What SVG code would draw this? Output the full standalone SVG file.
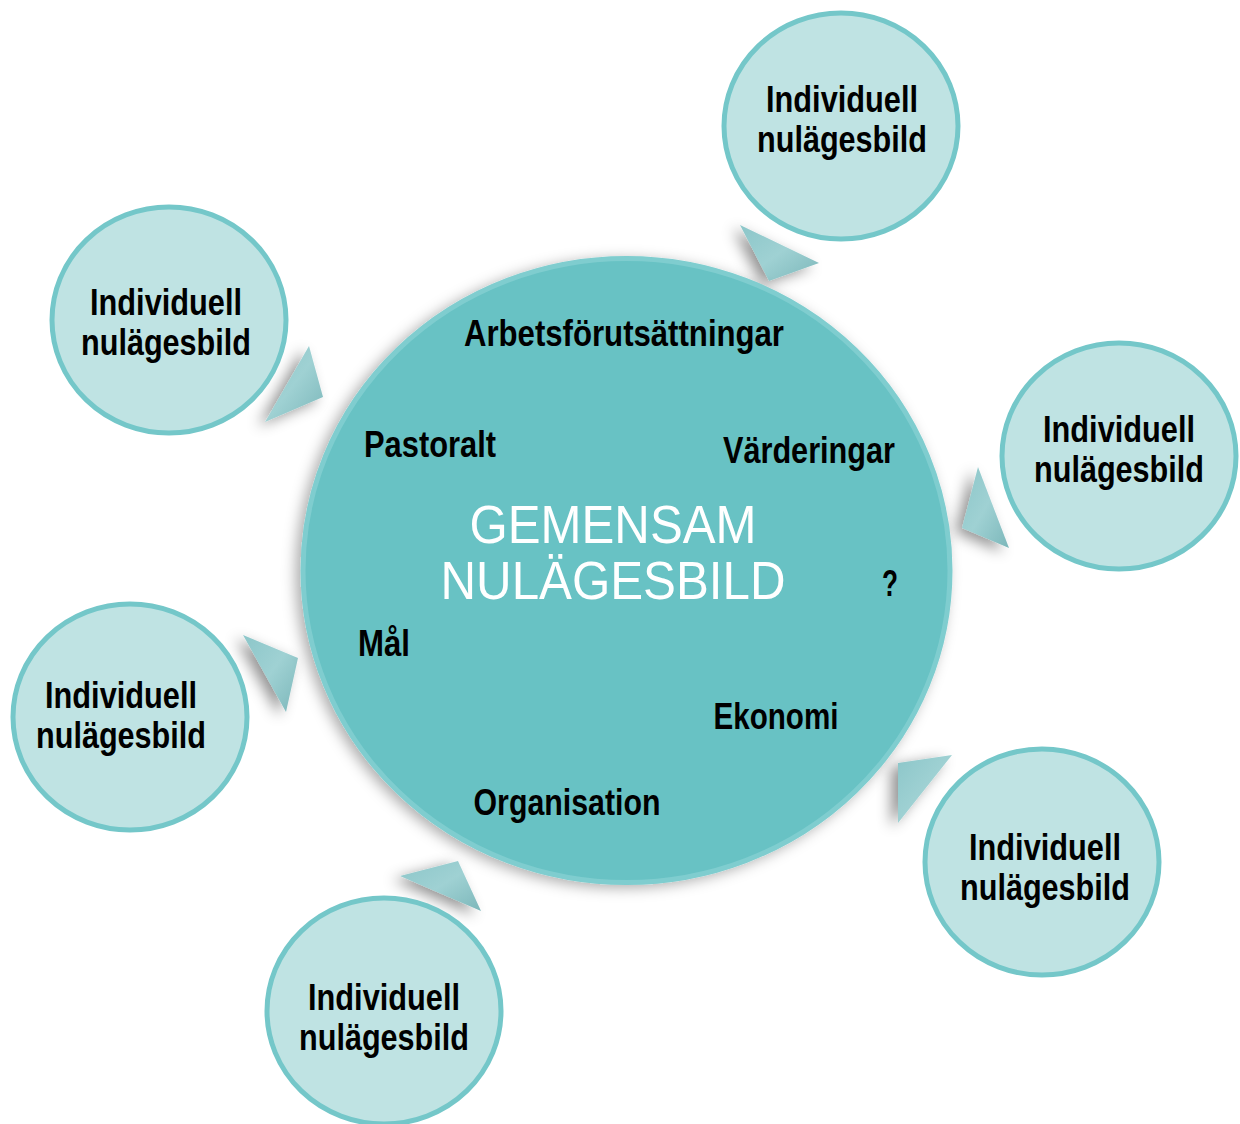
<svg xmlns="http://www.w3.org/2000/svg" width="1240" height="1124" viewBox="0 0 1240 1124">
<defs>
<style>
.small{fill:#bfe3e3;stroke:#74c7c9;stroke-width:5}
.main{fill:#68c2c4;stroke:#7fcdcf;stroke-width:5}
.lbl{font-family:"Liberation Sans",Arial,sans-serif;font-weight:bold;font-size:36px;fill:#000;text-anchor:middle}
.big{font-family:"Liberation Sans",Arial,sans-serif;font-weight:normal;font-size:53px;fill:#fff;text-anchor:middle}
.tri{fill:url(#tg);filter:url(#sh)}
</style>
<linearGradient id="tg" x1="0" y1="0" x2="1" y2="1">
<stop offset="0" stop-color="#8cc6c9"/>
<stop offset="0.5" stop-color="#9fd1d3"/>
<stop offset="1" stop-color="#7cb7ba"/>
</linearGradient>
<filter id="sh" x="-50%" y="-50%" width="200%" height="200%">
<feDropShadow dx="-7" dy="4" stdDeviation="7" flood-color="#000" flood-opacity="0.42"/>
</filter>
<filter id="shm" x="-20%" y="-20%" width="140%" height="140%">
<feDropShadow dx="-5" dy="3" stdDeviation="7" flood-color="#000" flood-opacity="0.32"/>
</filter>
</defs>
<rect width="1240" height="1124" fill="#fff"/>
<g id="connectors">
<polygon class="tri" points="740,225 819,263 769,281"/>
<polygon class="tri" points="309,346 323,397 265,422"/>
<polygon class="tri" points="978,467 962,528 1009,548"/>
<polygon class="tri" points="243,635 298,658 286,712"/>
<polygon class="tri" points="898,763 952,755 898,823"/>
<polygon class="tri" points="400,876 458,861 481,911"/>
</g>
<g id="main">
<ellipse class="main" cx="626.5" cy="570.5" rx="323.5" ry="312" filter="url(#shm)"/>
<text class="lbl" x="624" y="346" textLength="320" lengthAdjust="spacingAndGlyphs">Arbetsförutsättningar</text>
<text class="lbl" x="430" y="457" textLength="132" lengthAdjust="spacingAndGlyphs">Pastoralt</text>
<text class="lbl" x="809" y="463" textLength="172" lengthAdjust="spacingAndGlyphs">Värderingar</text>
<text class="lbl" x="890" y="596" textLength="16" lengthAdjust="spacingAndGlyphs">?</text>
<text class="lbl" x="384" y="656" textLength="52" lengthAdjust="spacingAndGlyphs">Mål</text>
<text class="lbl" x="776" y="729" textLength="125" lengthAdjust="spacingAndGlyphs">Ekonomi</text>
<text class="lbl" x="567" y="815" textLength="187" lengthAdjust="spacingAndGlyphs">Organisation</text>
<text class="big" x="613" y="543" textLength="287" lengthAdjust="spacingAndGlyphs">GEMENSAM</text>
<text class="big" x="613" y="599" textLength="345" lengthAdjust="spacingAndGlyphs">NULÄGESBILD</text>
</g>
<g id="n1">
<ellipse class="small" cx="841" cy="126" rx="117" ry="113"/>
<text class="lbl" x="842" y="112" textLength="152" lengthAdjust="spacingAndGlyphs">Individuell</text>
<text class="lbl" x="842" y="152" textLength="170" lengthAdjust="spacingAndGlyphs">nulägesbild</text>
</g>
<g id="n2">
<ellipse class="small" cx="169" cy="320" rx="117" ry="113"/>
<text class="lbl" x="166" y="315" textLength="152" lengthAdjust="spacingAndGlyphs">Individuell</text>
<text class="lbl" x="166" y="355" textLength="170" lengthAdjust="spacingAndGlyphs">nulägesbild</text>
</g>
<g id="n3">
<ellipse class="small" cx="1119" cy="456" rx="117" ry="113"/>
<text class="lbl" x="1119" y="442" textLength="152" lengthAdjust="spacingAndGlyphs">Individuell</text>
<text class="lbl" x="1119" y="482" textLength="170" lengthAdjust="spacingAndGlyphs">nulägesbild</text>
</g>
<g id="n4">
<ellipse class="small" cx="130" cy="717" rx="117" ry="113"/>
<text class="lbl" x="121" y="708" textLength="152" lengthAdjust="spacingAndGlyphs">Individuell</text>
<text class="lbl" x="121" y="748" textLength="170" lengthAdjust="spacingAndGlyphs">nulägesbild</text>
</g>
<g id="n5">
<ellipse class="small" cx="1042" cy="862" rx="117" ry="113"/>
<text class="lbl" x="1045" y="860" textLength="152" lengthAdjust="spacingAndGlyphs">Individuell</text>
<text class="lbl" x="1045" y="900" textLength="170" lengthAdjust="spacingAndGlyphs">nulägesbild</text>
</g>
<g id="n6">
<ellipse class="small" cx="384" cy="1011" rx="117" ry="113"/>
<text class="lbl" x="384" y="1010" textLength="152" lengthAdjust="spacingAndGlyphs">Individuell</text>
<text class="lbl" x="384" y="1050" textLength="170" lengthAdjust="spacingAndGlyphs">nulägesbild</text>
</g>
</svg>
